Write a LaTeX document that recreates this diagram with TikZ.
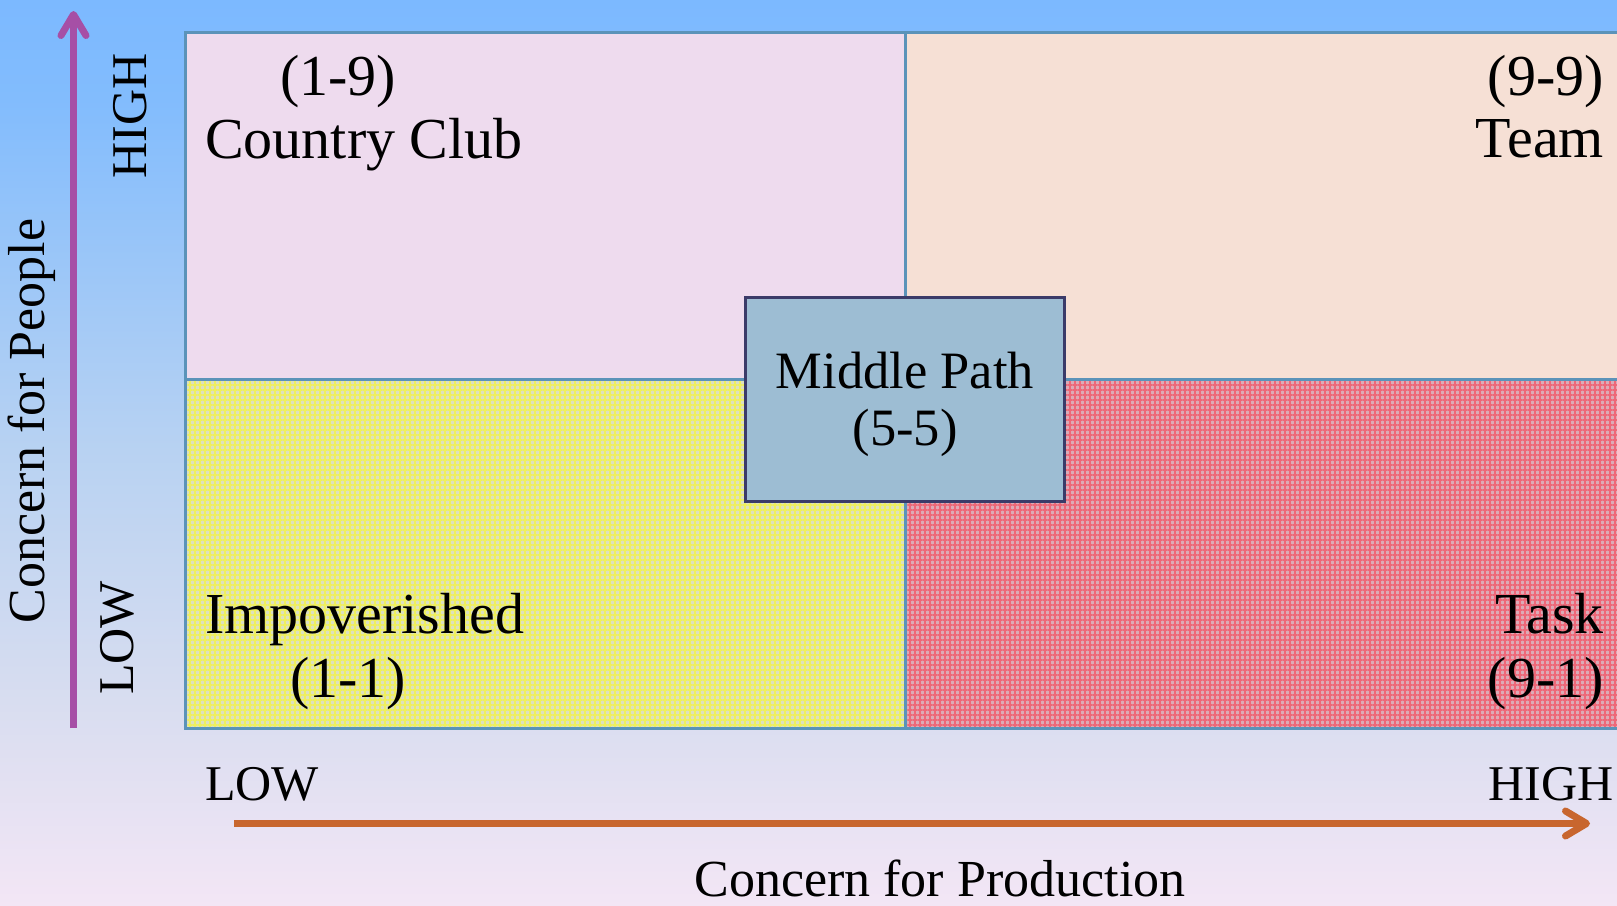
\documentclass[tikz,border=0pt]{standalone}
\usepackage{fontspec}
\setmainfont{Liberation Serif}
\usetikzlibrary{arrows.meta,patterns.meta}
\definecolor{bgtop}{HTML}{7CB9FF}
\definecolor{bgtwo}{HTML}{82BCFD}
\definecolor{bgmid}{HTML}{B8D2F2}
\definecolor{bglow}{HTML}{D8DDF0}
\definecolor{bgbot}{HTML}{F3E6F5}
\definecolor{pinkq}{HTML}{EEDBEE}
\definecolor{peachq}{HTML}{F6E0D5}
\definecolor{yelbase}{HTML}{DDE1BE}
\definecolor{yelline}{HTML}{EFEF5E}
\definecolor{redbase}{HTML}{DDAAB6}
\definecolor{redline}{HTML}{EE6878}
\definecolor{gridline}{HTML}{5B93B9}
\definecolor{midfill}{HTML}{9DBDD3}
\definecolor{midborder}{HTML}{3B3B69}
\definecolor{purplearrow}{HTML}{A64FA6}
\definecolor{orangearrow}{HTML}{C8662E}
\pgfdeclareverticalshading{bgshade}{100bp}{color(0bp)=(bgbot); color(25bp)=(bgbot); color(36.3bp)=(bglow); color(50.1bp)=(bgmid); color(69.5bp)=(bgtwo); color(75bp)=(bgtop); color(100bp)=(bgtop)}
\tikzset{
  quadtext/.style={inner sep=0pt, font=\fontsize{58}{62}\selectfont},
  midtext/.style={inner sep=0pt, font=\fontsize{52.5}{56}\selectfont},
  axistext/.style={inner sep=0pt, font=\fontsize{50}{55}\selectfont},
  axistitle/.style={inner sep=0pt, font=\fontsize{52}{56}\selectfont},
  gridrule/.style={draw=gridline, line width=3pt},
  axisarrow/.style={line width=7pt, -{Straight Barb[length=21pt,width=25pt,line cap=round,line join=round]}},
}
\begin{document}
\begin{tikzpicture}[x=1pt,y=-1pt]
\useasboundingbox (0,0) rectangle (1617,905);
\shade[shading=bgshade] (0,0) rectangle (1617,905);
% quadrants
\fill[pinkq] (185,32) rectangle (905,379);
\fill[peachq] (905,32) rectangle (1620,379);
\fill[yelbase] (185,379) rectangle (905,728);
\fill[pattern={Lines[angle=0,distance=5pt,line width=1.2pt]}, pattern color=yelline] (185,379) rectangle (905,728);
\fill[pattern={Lines[angle=90,distance=5pt,line width=1.2pt]}, pattern color=yelline] (185,379) rectangle (905,728);
\fill[redbase] (905,379) rectangle (1620,728);
\fill[pattern={Lines[angle=0,distance=5pt,line width=1.2pt]}, pattern color=redline] (905,379) rectangle (1620,728);
\fill[pattern={Lines[angle=90,distance=5pt,line width=1.2pt]}, pattern color=redline] (905,379) rectangle (1620,728);
% grid lines
\draw[gridrule] (1625,32) -- (185,32) -- (185,728) -- (1625,728);
\draw[gridrule] (905,32) -- (905,728);
\draw[gridrule] (185,379) -- (1625,379);
% middle box
\node[draw=midborder, fill=midfill, line width=3.5pt, minimum width=319pt, minimum height=204pt, inner sep=0pt] (mid) at (905,399.5) {};
\node[midtext, anchor=base] (midname) at (905,388) {Middle Path};
\node[midtext, anchor=base] (midnum) at (905,445) {(5-5)};
% quadrant texts
\node[quadtext, anchor=base] (cc num) at (338,95) {(1-9)};
\node[quadtext, anchor=base west] (cc name) at (205,158) {Country Club};
\node[quadtext, anchor=base east] (team num) at (1604,95) {(9-9)};
\node[quadtext, anchor=base east] (team name) at (1604,157) {Team};
\node[quadtext, anchor=base west] (imp name) at (205,633) {Impoverished};
\node[quadtext, anchor=base] (imp num) at (348,697) {(1-1)};
\node[quadtext, anchor=base east] (task name) at (1604,633) {Task};
\node[quadtext, anchor=base east] (task num) at (1604,697) {(9-1)};
% axis labels
\node[axistext, anchor=base west] (xlow) at (205,800) {LOW};
\node[axistext, anchor=base east] (xhigh) at (1614,800) {HIGH};
\node[axistitle, anchor=base, text depth=0pt] (xtitle) at (940,896) {Concern for Production};
\node[axistext, anchor=base, rotate=90] (yhigh) at (146,116) {HIGH};
\node[axistext, anchor=base, rotate=90] (ylow) at (133,638) {LOW};
\node[axistitle, anchor=base, rotate=90] (ytitle) at (44,421) {Concern for People};
% arrows
\coordinate (ystart) at (73.5,728);
\coordinate (yend) at (73.5,11);
\coordinate (xstart) at (234,823.5);
\coordinate (xend) at (1590,823.5);
\draw[axisarrow, draw=purplearrow] (ystart) -- (yend);
\draw[axisarrow, draw=orangearrow] (xstart) -- (xend);
\end{tikzpicture}
\end{document}
